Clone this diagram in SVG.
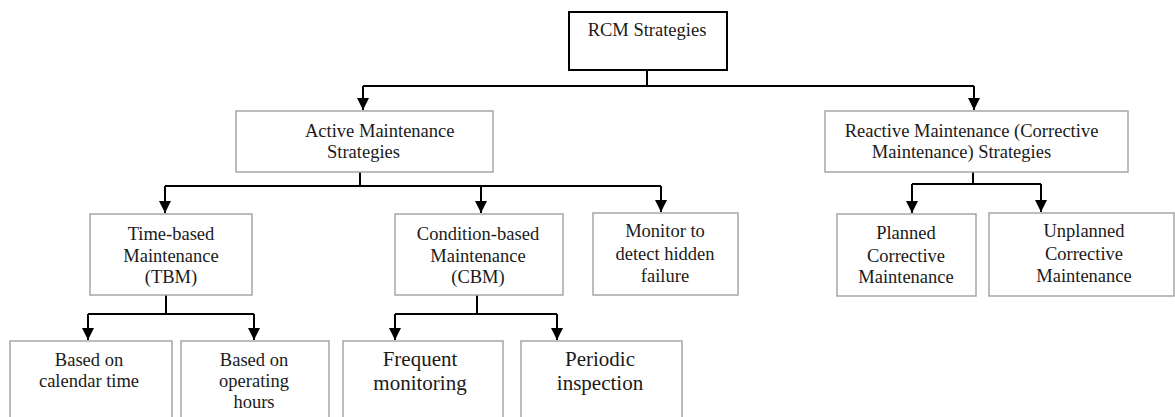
<svg xmlns="http://www.w3.org/2000/svg" width="1175" height="417" viewBox="0 0 1175 417">
<style>
  .box { fill: #ffffff; stroke: #a6a6a6; stroke-width: 1.5; }
  .root { fill: #ffffff; stroke: #000000; stroke-width: 2; }
  .t { font-family: "Liberation Serif", "Times New Roman", serif; font-size: 18.5px; fill: #1a1a1a; text-anchor: middle; }
  .ts { text-anchor: start; }
  .tl { font-size: 21px; }
  .line { fill: none; stroke: #000000; stroke-width: 2; }
  .arrow { fill: none; stroke: #000000; stroke-width: 2; marker-end: url(#ah); }
</style>
<defs>
  <marker id="ah" viewBox="0 0 12 12" refX="12" refY="6" markerWidth="12" markerHeight="12" markerUnits="userSpaceOnUse" orient="auto">
    <path d="M0,0 L12,6 L0,12 z" fill="#000000"/>
  </marker>
</defs>
<rect width="1175" height="417" fill="#ffffff"/>

<g id="connectors">
  <path class="line" d="M647,70 V86 M363,86 H974"/>
  <path class="arrow" d="M363,86 V110"/>
  <path class="arrow" d="M974,86 V110"/>

  <path class="line" d="M360,172 V186 M165,186 H661"/>
  <path class="arrow" d="M165,186 V213"/>
  <path class="arrow" d="M481,186 V213"/>
  <path class="arrow" d="M661,186 V212"/>

  <path class="line" d="M973,172 V184 M912,184 H1041"/>
  <path class="arrow" d="M912,184 V213"/>
  <path class="arrow" d="M1041,184 V212"/>

  <path class="line" d="M166,295 V314 M88,314 H254"/>
  <path class="arrow" d="M88,314 V340"/>
  <path class="arrow" d="M254,314 V340"/>

  <path class="line" d="M477,295 V314 M395,314 H557"/>
  <path class="arrow" d="M395,314 V340"/>
  <path class="arrow" d="M557,314 V340"/>
</g>

<g id="rcm">
  <rect class="root" x="569" y="12" width="158" height="58"/>
  <text class="t" x="647" y="36">RCM Strategies</text>
</g>

<g id="active">
  <rect class="box" x="236" y="111" width="257" height="61"/>
  <text class="t ts" x="305" y="137">Active Maintenance</text>
  <text class="t ts" x="327" y="157.5">Strategies</text>
</g>

<g id="reactive">
  <rect class="box" x="825" y="111" width="303" height="61"/>
  <text class="t" x="971.5" y="137">Reactive Maintenance (Corrective</text>
  <text class="t" x="961.5" y="157.5">Maintenance) Strategies</text>
</g>

<g id="tbm">
  <rect class="box" x="90" y="214" width="162" height="81"/>
  <text class="t" x="171" y="240">Time-based</text>
  <text class="t" x="171" y="262">Maintenance</text>
  <text class="t" x="171" y="283">(TBM)</text>
</g>

<g id="cbm">
  <rect class="box" x="395" y="214" width="168" height="81"/>
  <text class="t" x="478" y="240">Condition-based</text>
  <text class="t" x="478" y="262">Maintenance</text>
  <text class="t" x="478" y="283">(CBM)</text>
</g>

<g id="monitor">
  <rect class="box" x="593" y="213" width="145" height="82"/>
  <text class="t" x="665" y="237">Monitor to</text>
  <text class="t" x="665" y="260">detect hidden</text>
  <text class="t" x="665" y="282">failure</text>
</g>

<g id="planned">
  <rect class="box" x="837" y="214" width="139" height="82"/>
  <text class="t" x="906" y="239">Planned</text>
  <text class="t" x="906" y="262">Corrective</text>
  <text class="t" x="906" y="283">Maintenance</text>
</g>

<g id="unplanned">
  <rect class="box" x="989" y="213" width="185" height="83"/>
  <text class="t" x="1084" y="237">Unplanned</text>
  <text class="t" x="1084" y="260">Corrective</text>
  <text class="t" x="1084" y="282">Maintenance</text>
</g>

<g id="calendar">
  <rect class="box" x="10" y="341" width="162" height="80"/>
  <text class="t" x="89" y="366">Based on</text>
  <text class="t" x="89" y="387">calendar time</text>
</g>

<g id="operating">
  <rect class="box" x="181" y="341" width="148" height="80"/>
  <text class="t" x="254" y="366">Based on</text>
  <text class="t" x="254" y="387">operating</text>
  <text class="t" x="254" y="408">hours</text>
</g>

<g id="frequent">
  <rect class="box" x="343" y="341" width="160" height="80"/>
  <text class="t tl" x="420" y="366">Frequent</text>
  <text class="t tl" x="420" y="390">monitoring</text>
</g>

<g id="periodic">
  <rect class="box" x="521" y="341" width="161" height="80"/>
  <text class="t tl" x="600" y="366">Periodic</text>
  <text class="t tl" x="600" y="390">inspection</text>
</g>
</svg>
